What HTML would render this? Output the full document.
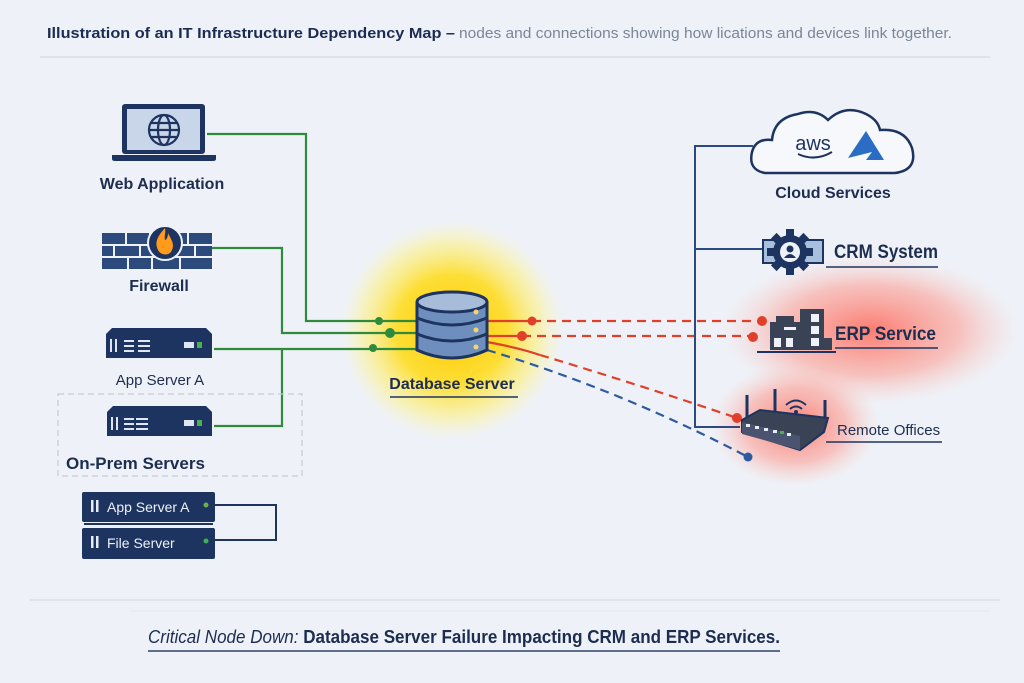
<!DOCTYPE html>
<html><head><meta charset="utf-8"><style>
html,body{margin:0;padding:0;background:#eef2f8;}
svg{display:block;font-family:"Liberation Sans",sans-serif;}
</style></head><body>
<svg width="1024" height="683" viewBox="0 0 1024 683" xmlns="http://www.w3.org/2000/svg">
<defs>
<radialGradient id="gy" cx="50%" cy="50%" r="50%">
<stop offset="0" stop-color="#ffc800" stop-opacity="1"/>
<stop offset="0.5" stop-color="#ffdc20" stop-opacity="0.9"/>
<stop offset="0.8" stop-color="#fff07a" stop-opacity="0.5"/>
<stop offset="1" stop-color="#fff6b0" stop-opacity="0"/>
</radialGradient>
<radialGradient id="gr" cx="50%" cy="50%" r="50%">
<stop offset="0" stop-color="#ff5e4e" stop-opacity="0.8"/>
<stop offset="0.6" stop-color="#ff8f82" stop-opacity="0.5"/>
<stop offset="1" stop-color="#ffc0b8" stop-opacity="0"/>
</radialGradient>
</defs>
<rect width="1024" height="683" fill="#eef2f8"/>
<text x="47" y="38" font-size="15" font-weight="bold" fill="#1c2b52" textLength="408" lengthAdjust="spacingAndGlyphs">Illustration of an IT Infrastructure Dependency Map –</text>
<text x="459" y="38" font-size="15" fill="#7a8598" textLength="493" lengthAdjust="spacingAndGlyphs">nodes and connections showing how lications and devices link together.</text>
<line x1="40" y1="57" x2="990" y2="57" stroke="#dde3ec" stroke-width="2"/>

<ellipse cx="452" cy="330" rx="112" ry="110" fill="url(#gy)"/>
<ellipse cx="870" cy="330" rx="150" ry="75" fill="url(#gr)"/>
<ellipse cx="795" cy="425" rx="85" ry="62" fill="url(#gr)"/>

<g stroke="#2f8a3c" stroke-width="2.2" fill="none">
<polyline points="207,134 306,134 306,321 420,321"/>
<polyline points="212,248 282,248 282,333 420,333"/>
<polyline points="214,349 420,349"/>
<polyline points="282,349 282,426 214,426"/>
</g>
<circle cx="379" cy="321" r="4" fill="#2f8a3c"/>
<circle cx="390" cy="333" r="5" fill="#2f8a3c"/>
<circle cx="373" cy="348" r="4" fill="#2f8a3c"/>

<rect x="58" y="394" width="244" height="82" fill="none" stroke="#c4cad4" stroke-width="1.2" stroke-dasharray="6,4"/>

<rect x="122" y="104" width="83" height="50" rx="3" fill="#1d3461"/>
<rect x="127" y="109" width="73" height="41" fill="#c9d6ea"/>
<path d="M112 155 H216 V159 Q216 161 213 161 H115 Q112 161 112 159Z" fill="#1d3461"/>
<g fill="none" stroke="#1d3461" stroke-width="2.2">
<circle cx="164" cy="130" r="15"/><ellipse cx="164" cy="130" rx="6" ry="15"/>
<line x1="149" y1="130" x2="179" y2="130"/><line x1="151" y1="123" x2="177" y2="123"/><line x1="151" y1="137" x2="177" y2="137"/>
</g>
<text x="162" y="189" font-size="16" font-weight="bold" fill="#1d2d50" text-anchor="middle">Web Application</text>

<rect x="102" y="233" width="110" height="36" fill="#2c4a7c"/>
<g stroke="#eef2f8" stroke-width="2">
<line x1="102" y1="245" x2="212" y2="245"/><line x1="102" y1="257" x2="212" y2="257"/>
<line x1="126" y1="233" x2="126" y2="245"/><line x1="150" y1="233" x2="150" y2="245"/><line x1="188" y1="233" x2="188" y2="245"/>
<line x1="114" y1="245" x2="114" y2="257"/><line x1="140" y1="245" x2="140" y2="257"/><line x1="195" y1="245" x2="195" y2="257"/>
<line x1="128" y1="257" x2="128" y2="269"/><line x1="152" y1="257" x2="152" y2="269"/><line x1="180" y1="257" x2="180" y2="269"/>
</g>
<circle cx="165" cy="243" r="17" fill="#1d3461" stroke="#eef2f8" stroke-width="2"/>
<path d="M165 228 C158 236 154 242 158 250 C161 256 170 256 172 250 C175 243 170 238 168 233 C168 238 166 240 165 240 C164 236 166 232 165 228Z" fill="#ff9a1a"/>
<text x="159" y="291" font-size="16" font-weight="bold" fill="#1d2d50" text-anchor="middle">Firewall</text>

<path d="M112 328 H206 L212 334 V358 H106 V334Z" fill="#1d3461"/>
<g fill="#dfe6f2"><rect x="110" y="339" width="2" height="13"/><rect x="115" y="339" width="2" height="13"/><rect x="124" y="340" width="10" height="2"/><rect x="124" y="345" width="10" height="2"/><rect x="124" y="350" width="10" height="2"/><rect x="138" y="340" width="12" height="2"/><rect x="138" y="345" width="12" height="2"/><rect x="138" y="350" width="12" height="2"/><rect x="184" y="342" width="10" height="6"/></g>
<rect x="197" y="342" width="5" height="6" fill="#4caf50"/>
<text x="160" y="385" font-size="15" fill="#1d2d50" text-anchor="middle">App Server A</text>

<path d="M113 406 H206 L212 412 V436 H107 V412Z" fill="#1d3461"/>
<g fill="#dfe6f2"><rect x="111" y="417" width="2" height="13"/><rect x="116" y="417" width="2" height="13"/><rect x="124" y="418" width="10" height="2"/><rect x="124" y="423" width="10" height="2"/><rect x="124" y="428" width="10" height="2"/><rect x="136" y="418" width="12" height="2"/><rect x="136" y="423" width="12" height="2"/><rect x="136" y="428" width="12" height="2"/><rect x="184" y="420" width="10" height="6"/></g>
<rect x="197" y="420" width="5" height="6" fill="#4caf50"/>
<text x="66" y="469" font-size="17" font-weight="bold" fill="#1d2d50">On-Prem Servers</text>

<polyline points="212,505 276,505 276,540 212,540" fill="none" stroke="#1d3461" stroke-width="2"/>
<rect x="82" y="492" width="133" height="30" rx="2" fill="#1d3461"/>
<rect x="82" y="528" width="133" height="31" rx="2" fill="#1d3461"/>
<line x1="84" y1="524" x2="213" y2="524" stroke="#1d3461" stroke-width="2"/>
<g fill="#e6ecf5"><rect x="91" y="500" width="2.5" height="12"/><rect x="96" y="500" width="2.5" height="12"/><rect x="91" y="536" width="2.5" height="12"/><rect x="96" y="536" width="2.5" height="12"/></g>
<text x="107" y="512" font-size="14" fill="#eef2f8">App Server A</text>
<text x="107" y="548" font-size="14" fill="#eef2f8">File Server</text>
<circle cx="206" cy="505" r="2.5" fill="#6ab04c"/><circle cx="206" cy="541" r="2.5" fill="#3fb054"/>

<g stroke="#e0402a" stroke-width="2.2" fill="none">
<line x1="487" y1="321" x2="532" y2="321"/><line x1="487" y1="336" x2="522" y2="336"/>
<line x1="532" y1="321" x2="762" y2="321" stroke-dasharray="9,6"/>
<line x1="522" y1="336" x2="753" y2="336" stroke-dasharray="9,6"/>
<path d="M487 342 Q520 348 540 355" />
<path d="M540 355 Q640 385 737 418" stroke-dasharray="9,6"/>
</g>
<path d="M487 350 Q620 390 748 457" stroke="#2d5aa0" stroke-width="2.2" fill="none" stroke-dasharray="9,6"/>
<circle cx="532" cy="321" r="4.5" fill="#e0402a"/><circle cx="522" cy="336" r="5" fill="#e0402a"/>
<circle cx="762" cy="321" r="5" fill="#e0402a"/><circle cx="753" cy="337" r="5" fill="#e0402a"/>
<circle cx="737" cy="418" r="5" fill="#e0402a"/><circle cx="748" cy="457" r="4.5" fill="#2d5aa0"/>

<g stroke="#1d3461" stroke-width="3">
<path d="M417 302 V350 Q452 366 487 350 V302" fill="#6e8fbd"/>
<ellipse cx="452" cy="302" rx="35" ry="10" fill="#a7bcd9"/>
<path d="M417 318 Q452 332 487 318" fill="none"/>
<path d="M417 334 Q452 348 487 334" fill="none"/>
</g>
<circle cx="476" cy="312" r="2.5" fill="#f3d56b"/><circle cx="476" cy="330" r="2.5" fill="#f3d56b"/><circle cx="476" cy="347" r="2.5" fill="#f3d56b"/>
<text x="452" y="389" font-size="16" font-weight="bold" fill="#1d2d50" text-anchor="middle">Database Server</text>
<line x1="390" y1="397" x2="518" y2="397" stroke="#1d3461" stroke-width="1.5"/>

<g stroke="#2b4a80" stroke-width="2" fill="none">
<polyline points="753,146 695,146 695,427 740,427"/>
<line x1="695" y1="249" x2="764" y2="249"/>
</g>

<path d="M765 173 Q748 170 752 152 Q756 138 772 140 Q774 118 798 114 Q816 108 828 120 Q845 104 866 114 Q878 120 880 130 Q905 128 912 148 Q918 170 895 173Z" fill="#f6f8fc" stroke="#1d3461" stroke-width="2.5"/>
<text x="813" y="150" font-size="20" fill="#1d3461" text-anchor="middle">aws</text>
<path d="M798 154 Q815 162 832 152" stroke="#1d3461" stroke-width="2" fill="none"/>
<path d="M848 158 L866 131 L884 160 H866 L872 152 Z" fill="#2b6cc4"/>
<text x="833" y="198" font-size="16" font-weight="bold" fill="#1d2d50" text-anchor="middle">Cloud Services</text>

<rect x="763" y="240" width="60" height="23" fill="#a8c0de" stroke="#1d3461" stroke-width="2"/>
<g transform="translate(790,252)">
<circle r="17" fill="#1d3461"/>
<g fill="#1d3461"><rect x="-4" y="-23" width="8" height="8"/><rect x="-4" y="15" width="8" height="8"/><rect x="-23" y="-4" width="8" height="8"/><rect x="15" y="-4" width="8" height="8"/>
<rect x="-4" y="-23" width="8" height="8" transform="rotate(45)"/><rect x="-4" y="15" width="8" height="8" transform="rotate(45)"/><rect x="-23" y="-4" width="8" height="8" transform="rotate(45)"/><rect x="15" y="-4" width="8" height="8" transform="rotate(45)"/></g>
<circle r="10" fill="#eef2f8"/>
<circle cy="-3" r="3.5" fill="#1d3461"/><path d="M-6 6 Q0 -2 6 6Z" fill="#1d3461"/>
</g>
<text x="834" y="258" font-size="19" font-weight="bold" fill="#1d2d50" textLength="104" lengthAdjust="spacingAndGlyphs">CRM System</text>
<line x1="826" y1="267" x2="938" y2="267" stroke="#1d3461" stroke-width="1.5"/>

<rect x="770" y="322" width="30" height="28" fill="#3a4256"/>
<rect x="776" y="316" width="18" height="6" fill="#3a4256"/>
<rect x="800" y="309" width="24" height="41" fill="#3a4256"/>
<rect x="824" y="338" width="8" height="12" fill="#3a4256"/>
<g fill="#eef2f8"><rect x="774" y="338" width="7" height="9"/><rect x="786" y="338" width="7" height="9"/><rect x="784" y="327" width="12" height="3"/><rect x="811" y="314" width="8" height="8"/><rect x="811" y="326" width="8" height="8"/><rect x="811" y="338" width="8" height="8"/></g>
<line x1="757" y1="352" x2="836" y2="352" stroke="#1d3461" stroke-width="2"/>
<text x="835" y="340" font-size="19" font-weight="bold" fill="#1d2d50" textLength="101" lengthAdjust="spacingAndGlyphs">ERP Service</text>
<line x1="835" y1="348" x2="938" y2="348" stroke="#1d3461" stroke-width="1.5"/>

<line x1="747" y1="395" x2="747" y2="420" stroke="#1d3461" stroke-width="3"/>
<line x1="775" y1="389" x2="775" y2="415" stroke="#1d3461" stroke-width="3"/>
<line x1="825" y1="400" x2="825" y2="420" stroke="#1d3461" stroke-width="3"/>
<path d="M742 420 L760 410 L828 418 L824 432 L800 450 L742 432Z" fill="#3a4256" stroke="#1d3461" stroke-width="2"/>
<path d="M742 422 L800 436 L800 450 L742 434Z" fill="#4a5370"/>
<g fill="#e6ecf5"><rect x="746" y="424" width="4" height="3"/><rect x="755" y="426" width="4" height="3"/><rect x="764" y="428" width="4" height="3"/><rect x="773" y="430" width="4" height="3"/><rect x="787" y="433" width="4" height="3"/></g>
<rect x="780" y="431" width="4" height="3" fill="#4caf50"/>
<path d="M786 405 Q796 396 806 405 M790 409 Q796 404 802 409" stroke="#1d3461" stroke-width="2" fill="none"/>
<circle cx="796" cy="412" r="2" fill="#1d3461"/>
<text x="837" y="435" font-size="15" fill="#1d2d50">Remote Offices</text>
<line x1="826" y1="442" x2="942" y2="442" stroke="#1d3461" stroke-width="1.5"/>

<line x1="30" y1="600" x2="1000" y2="600" stroke="#d8dee8" stroke-width="1.5"/>
<line x1="130" y1="611" x2="990" y2="611" stroke="#e2e7ef" stroke-width="1"/>
<text x="148" y="643" font-size="18" fill="#1d2d50" textLength="632" lengthAdjust="spacingAndGlyphs"><tspan font-style="italic">Critical Node Down:</tspan> <tspan font-weight="bold">Database Server Failure Impacting CRM and ERP Services.</tspan></text>
<line x1="148" y1="651" x2="780" y2="651" stroke="#4a5a7a" stroke-width="1.8"/>
</svg>
</body></html>
